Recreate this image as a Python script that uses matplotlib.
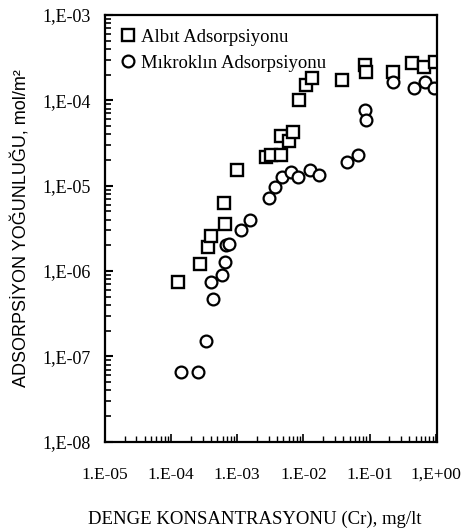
import matplotlib
matplotlib.use("Agg")
import matplotlib.pyplot as plt
from matplotlib.ticker import LogLocator, FixedLocator, NullFormatter

# Albit adsorption data
albit_x = [1.26e-4, 2.75e-4, 3.6e-4, 4.0e-4, 6.3e-4, 6.5e-4, 9.9e-4, 2.7e-3, 3.2e-3,
           4.6e-3, 4.6e-3, 6.0e-3, 6.9e-3, 8.5e-3, 1.1e-2, 1.35e-2, 3.8e-2, 8.5e-2,
           8.8e-2, 0.224, 0.436, 0.66, 0.97]
albit_y = [7.5e-7, 1.2e-6, 1.9e-6, 2.6e-6, 6.2e-6, 3.6e-6, 1.53e-5, 2.17e-5, 2.3e-5,
           2.3e-5, 3.8e-5, 3.3e-5, 4.2e-5, 1.0e-4, 1.5e-4, 1.8e-4, 1.74e-4, 2.6e-4,
           2.15e-4, 2.15e-4, 2.75e-4, 2.45e-4, 2.8e-4]

# Mikroklin adsorption data
mikro_x = [1.4e-4, 2.6e-4, 3.4e-4, 4.0e-4, 4.3e-4, 5.9e-4, 6.5e-4, 6.8e-4, 7.5e-4,
           1.13e-3, 1.55e-3, 3.0e-3, 3.7e-3, 4.7e-3, 6.5e-3, 8.2e-3, 1.26e-2, 1.7e-2,
           4.6e-2, 6.6e-2, 8.5e-2, 9.0e-2, 0.224, 0.47, 0.68, 0.93]
mikro_y = [6.6e-8, 6.6e-8, 1.5e-7, 7.5e-7, 4.7e-7, 9.1e-7, 1.26e-6, 2.0e-6, 2.05e-6,
           3.0e-6, 4.0e-6, 7.2e-6, 9.7e-6, 1.27e-5, 1.45e-5, 1.27e-5, 1.53e-5, 1.35e-5,
           1.9e-5, 2.3e-5, 7.7e-5, 5.9e-5, 1.65e-4, 1.4e-4, 1.65e-4, 1.4e-4]

x_ticks = [1e-5, 1e-4, 1e-3, 1e-2, 1e-1, 1e0]
x_labels = ["1.E-05", "1.E-04", "1.E-03", "1.E-02", "1.E-01", "1,E+00"]
y_ticks = [1e-8, 1e-7, 1e-6, 1e-5, 1e-4, 1e-3]
y_labels = ["1,E-08", "1,E-07", "1,E-06", "1,E-05", "1,E-04", "1,E-03"]

serif = ["Liberation Serif", "DejaVu Serif"]
sans = ["Liberation Sans", "DejaVu Sans"]

fig = plt.figure(figsize=(4.64, 5.31), dpi=100)
ax = fig.add_axes([0.226, 0.168, 0.716, 0.804])

ax.plot(albit_x, albit_y, linestyle="none", marker="s", markersize=8.5,
        markerfacecolor="white", markeredgecolor="black", markeredgewidth=1.7,
        label="Albıt Adsorpsiyonu")
ax.plot(mikro_x, mikro_y, linestyle="none", marker="o", markersize=8.5,
        markerfacecolor="white", markeredgecolor="black", markeredgewidth=1.6,
        label="Mıkroklın Adsorpsiyonu")

ax.set_xscale("log")
ax.set_yscale("log")
ax.set_xlim(1e-5, 1.05e0)
ax.set_ylim(1e-8, 1e-3)

ax.xaxis.set_major_locator(FixedLocator(x_ticks))
ax.set_xticklabels(x_labels, fontfamily=serif, fontsize=12.5)
ax.yaxis.set_major_locator(FixedLocator(y_ticks))
ax.set_yticklabels(y_labels, fontfamily=serif, fontsize=13)
ax.xaxis.set_minor_locator(LogLocator(base=10, subs=range(2, 10), numticks=20))
ax.yaxis.set_minor_locator(LogLocator(base=10, subs=range(2, 10), numticks=20))
ax.xaxis.set_minor_formatter(NullFormatter())
ax.yaxis.set_minor_formatter(NullFormatter())

ax.tick_params(axis="x", which="major", direction="in", length=6, width=1.2, pad=18)
ax.tick_params(axis="x", which="minor", direction="in", length=4, width=1.0)
ax.tick_params(axis="y", which="major", direction="in", length=6, width=1.5, pad=10)
ax.tick_params(axis="y", which="minor", direction="in", length=4, width=1.2)

for s in ax.spines.values():
    s.set_linewidth(1.6)

ax.set_xlabel("DENGE KONSANTRASYONU (Cr), mg/lt", fontfamily=serif, fontsize=13.5)
ax.xaxis.set_label_coords(0.45, -0.162)
ax.set_ylabel("ADSORPSİYON YOĞUNLUĞU, mol/m²", fontfamily=sans, fontsize=13,
              labelpad=9)

ax.legend(loc="upper left", frameon=False, prop={"family": serif, "size": 13.5},
          handletextpad=0.2, labelspacing=0.45, borderaxespad=0.45, handlelength=1.0,
          borderpad=0.3)

fig.savefig("out.png", dpi=100)
